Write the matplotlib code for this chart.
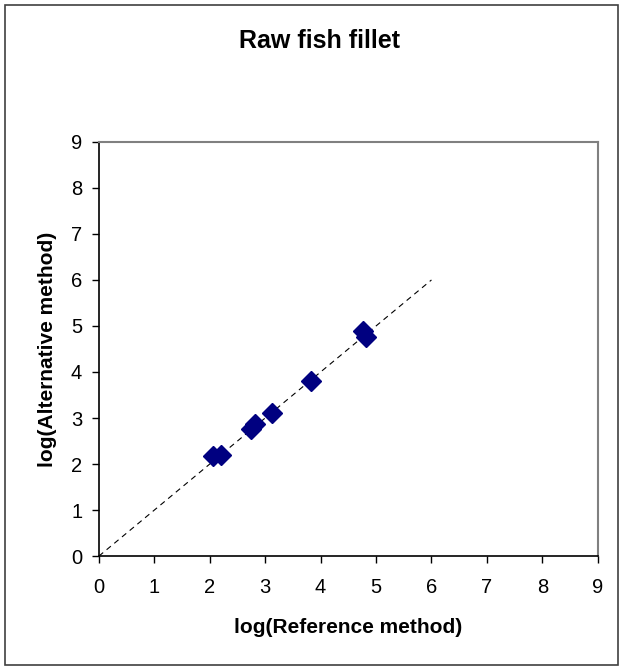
import numpy as np
import matplotlib.pyplot as plt
from matplotlib.patches import Rectangle

plt.rcParams['font.family'] = ['Liberation Sans', 'DejaVu Sans']

# log counts: reference method vs alternative method
ref_log = [2.05, 2.20, 2.75, 2.82, 3.12, 3.82, 4.77, 4.82]
alt_log = [2.18, 2.19, 2.76, 2.86, 3.11, 3.81, 4.88, 4.77]

# line of equality
line_x = [0, 6]
line_y = [0, 6]

fig = plt.figure(figsize=(6.22, 6.66), dpi=100)
ax = fig.add_axes([0.159, 0.165, 0.802, 0.622])

ax.plot(line_x, line_y, color='black', linestyle=(0, (5, 4)), linewidth=0.8)
ax.plot(ref_log, alt_log, linestyle='none', marker='D', markersize=10.5,
        color='#000080', markeredgecolor='#000080')

ax.set_xlim(0, 9)
ax.set_ylim(0, 9)
ax.set_xticks(range(10))
ax.set_yticks(range(10))
ax.tick_params(direction='out', length=5, width=1, labelsize=14.5, pad=7)
ax.tick_params(axis='x', pad=11)

for side in ['left', 'bottom']:
    ax.spines[side].set_color('black')
    ax.spines[side].set_linewidth(1.2)
for side in ['top', 'right']:
    ax.spines[side].set_color('#808080')
    ax.spines[side].set_linewidth(1.5)

ax.set_xlabel('log(Reference method)', fontsize=15, fontweight='bold', labelpad=15)
ax.set_ylabel('log(Alternative method)', fontsize=15, fontweight='bold', labelpad=10)
fig.text(0.513, 0.938, 'Raw fish fillet', ha='center', va='center',
         fontsize=18, fontweight='bold')

# chart border
fig.patches.append(Rectangle((0.008, 0.002), 0.986, 0.990, transform=fig.transFigure,
                             fill=False, edgecolor='#404040', linewidth=1.2))

fig.savefig('out.png', dpi=100)
